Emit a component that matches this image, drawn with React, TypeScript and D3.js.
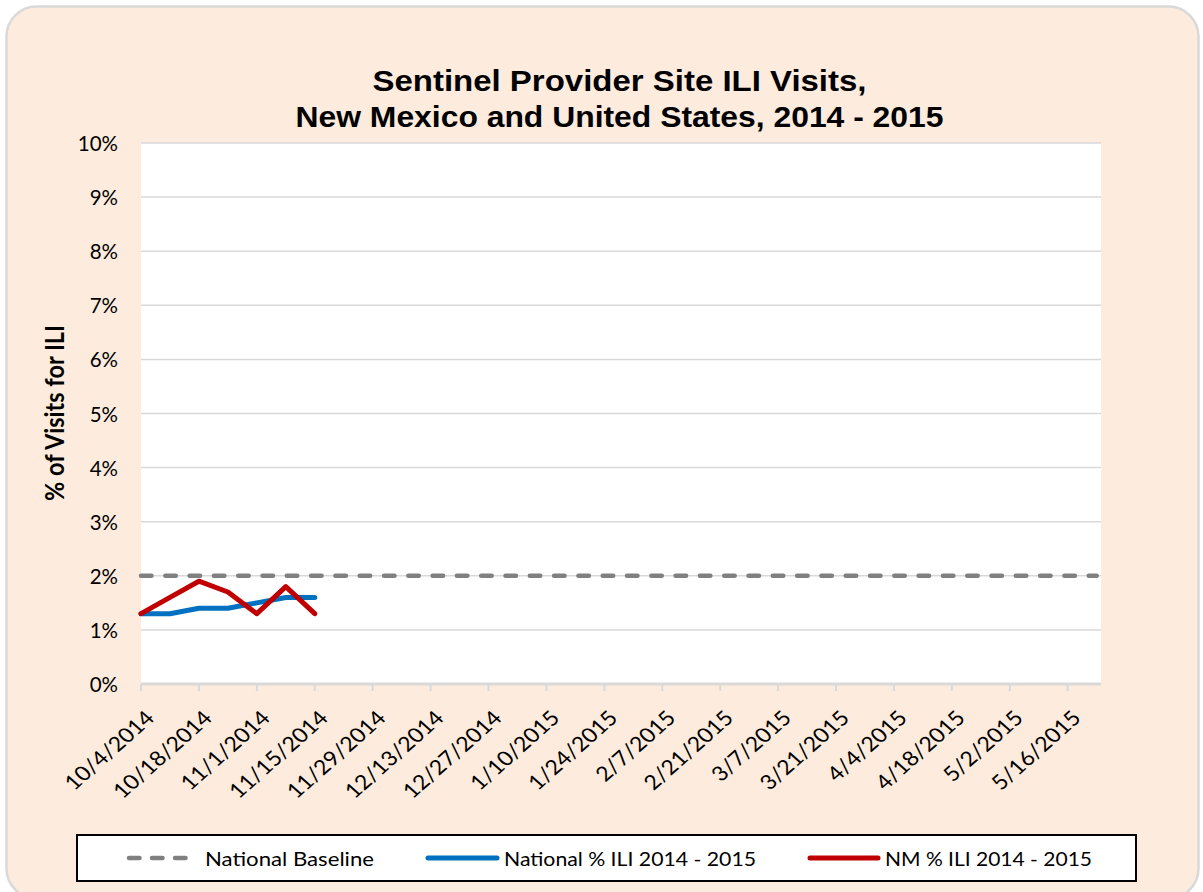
import React from "react";
import * as d3 from "d3";

const categories = [
  "10/4/2014", "10/11/2014", "10/18/2014", "10/25/2014", "11/1/2014", "11/8/2014",
  "11/15/2014", "11/22/2014", "11/29/2014", "12/6/2014", "12/13/2014", "12/20/2014",
  "12/27/2014", "1/3/2015", "1/10/2015", "1/17/2015", "1/24/2015", "1/31/2015",
  "2/7/2015", "2/14/2015", "2/21/2015", "2/28/2015", "3/7/2015", "3/14/2015",
  "3/21/2015", "3/28/2015", "4/4/2015", "4/11/2015", "4/18/2015", "4/25/2015",
  "5/2/2015", "5/9/2015", "5/16/2015", "5/23/2015",
];
const nationalBaseline = [
  2, 2, 2, 2, 2, 2, 2, 2, 2, 2, 2, 2, 2, 2, 2, 2, 2,
  2, 2, 2, 2, 2, 2, 2, 2, 2, 2, 2, 2, 2, 2, 2, 2, 2,
];
const nationalILI = [1.3, 1.3, 1.4, 1.4, 1.5, 1.6, 1.6];
const nmILI = [1.3, 1.6, 1.9, 1.7, 1.3, 1.8, 1.3];
const yTicks = [0, 1, 2, 3, 4, 5, 6, 7, 8, 9, 10];
const titleLines = [
  "Sentinel Provider Site ILI Visits,",
  "New Mexico and United States, 2014 - 2015",
];
const legendItems = ["National Baseline", "National % ILI 2014 - 2015", "NM % ILI 2014 - 2015"];

const SX = 1.13;
const W = 1203;
const H = 892;
const plot = { left: 141, right: 1101, top: 143, bottom: 684 };
const GRID = "#D9D9D9";
const BASE_COLOR = "#808080";
const BLUE = "#0070C0";
const RED = "#C00000";
const CAL = "Lato, Carlito, Calibri, sans-serif";

export default function App() {
  // category axis: index -> position (tick spacing 28.96 px per week)
  const x = d3.scaleLinear().domain([0, 32]).range([plot.left, 1067.7]);
  const y = d3.scaleLinear().domain([0, 10]).range([plot.bottom, plot.top]);
  const line = d3
    .line<number>()
    .x((_, i) => x(i))
    .y((d) => y(d));

  const legendLines = [
    { x1: 129, x2: 193, color: BASE_COLOR, dash: "10.5 12.5", w: 4.5, tx: 205, len: 169 },
    { x1: 428, x2: 497, color: BLUE, dash: undefined, w: 5, tx: 504, len: 252 },
    { x1: 810, x2: 878, color: RED, dash: undefined, w: 5, tx: 885, len: 207 },
  ];

  return (
    <svg
      width={W}
      height={H}
      style={{ position: "absolute", left: 0, top: 0, display: "block" }}
    >
      <rect x={6.5} y={6.5} width={1192} height={892} rx={30} ry={30} fill="#FDECDD" stroke={GRID} strokeWidth={2.5} />
      <rect x={plot.left} y={plot.top} width={plot.right - plot.left} height={plot.bottom - plot.top} fill="#FFFFFF" />

      {titleLines.map((t, i) => (
        <text
          key={t}
          x={619.5}
          y={91 + i * 35.7}
          textAnchor="middle"
          fontFamily="'Liberation Sans', Arial, sans-serif"
          fontWeight="bold"
          fontSize={29}
          textLength={[494, 648][i]}
          lengthAdjust="spacingAndGlyphs"
          fill="#000"
        >
          {t}
        </text>
      ))}

      {yTicks.filter((t) => t > 0).map((t) => (
        <line key={t} x1={plot.left} x2={plot.right} y1={y(t)} y2={y(t)} stroke={GRID} strokeWidth={1.5} />
      ))}
      <line x1={plot.left} x2={plot.right} y1={y(0)} y2={y(0)} stroke={GRID} strokeWidth={3} />
      {categories.map((c, i) =>
        i % 2 === 0 ? (
          <line key={c} x1={x(i)} x2={x(i)} y1={y(0)} y2={y(0) + 7} stroke={GRID} strokeWidth={2} />
        ) : null
      )}

      {yTicks.map((t) => (
        <text
          key={t}
          x={118}
          y={y(t)}
          textAnchor="end"
          dominantBaseline="central"
          fontFamily={CAL}
          fontSize={20.5}
          fill="#000"
        >
          {`${t}%`}
        </text>
      ))}

      {categories.map((c, i) =>
        i % 2 === 0 ? (
          <text
            key={c}
            transform={`translate(${x(i) + 3},709) scale(${SX},1) rotate(-45)`}
            textAnchor="end"
            dy="0.71em"
            fontFamily={CAL}
            fontSize={20.5}
            fill="#000"
          >
            {c}
          </text>
        ) : null
      )}

      <text
        transform={`translate(53,413) scale(${SX},1) rotate(-90)`}
        textAnchor="middle"
        dominantBaseline="central"
        fontFamily={CAL}
        fontWeight="bold"
        fontSize={23.5}
        fill="#000"
      >
        % of Visits for ILI
      </text>

      <path
        d={line(nationalBaseline) || ""}
        fill="none"
        stroke={BASE_COLOR}
        strokeWidth={4.5}
        strokeDasharray="10.5 13.8"
        strokeLinecap="round"
      />
      <path d={line(nationalILI) || ""} fill="none" stroke={BLUE} strokeWidth={5} strokeLinejoin="round" strokeLinecap="round" />
      <path d={line(nmILI) || ""} fill="none" stroke={RED} strokeWidth={5} strokeLinejoin="round" strokeLinecap="round" />

      <rect x={77} y={835} width={1059} height={46} fill="#FFFFFF" stroke="#000" strokeWidth={2} />
      {legendItems.map((t, i) => {
        const L = legendLines[i];
        return (
          <g key={t}>
            <line
              x1={L.x1}
              x2={L.x2}
              y1={858}
              y2={858}
              stroke={L.color}
              strokeWidth={L.w}
              strokeDasharray={L.dash}
              strokeLinecap="round"
            />
            <text
              x={L.tx}
              y={858}
              dominantBaseline="central"
              fontFamily={CAL}
              fontSize={19.3}
              textLength={L.len}
              lengthAdjust="spacingAndGlyphs"
              fill="#000"
            >
              {t}
            </text>
          </g>
        );
      })}
    </svg>
  );
}
